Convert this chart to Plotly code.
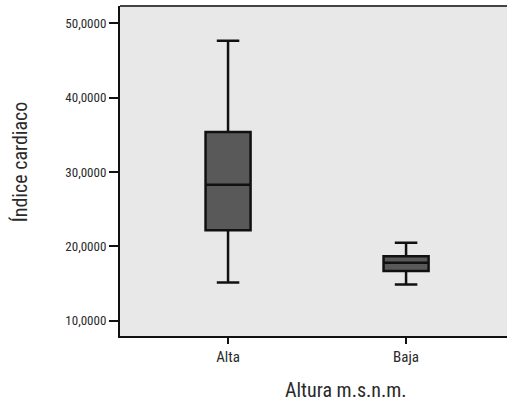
import plotly.graph_objects as go

categories = ["Alta", "Baja"]
lower = [15.14, 14.87]
q1 = [22.18, 16.70]
median = [28.28, 17.78]
q3 = [35.37, 18.68]
upper = [47.66, 20.47]
y_ticks = [10, 20, 30, 40, 50]
y_tick_labels = ["10,0000", "20,0000", "30,0000", "40,0000", "50,0000"]
x_title = "Altura m.s.n.m."
y_title = "Índice cardiaco"

FONT = "Liberation Sans Narrow, Roboto Condensed, Arial Narrow, sans-serif"
TXT = "#2a2a2a"

fig = go.Figure()
fig.add_trace(go.Box(
    x=categories, q1=q1, median=median, q3=q3,
    lowerfence=lower, upperfence=upper,
    fillcolor="#595959", line=dict(color="#111111", width=2.5),
    width=0.253, whiskerwidth=0.5, boxpoints=False, showlegend=False,
))

fig.update_layout(
    width=507, height=403,
    margin=dict(l=120, r=0, t=6, b=67),
    paper_bgcolor="white", plot_bgcolor="#e8e8e8",
    font=dict(family=FONT, color=TXT, size=12),
    xaxis=dict(
        type="category", range=[-0.607, 1.567],
        showline=True, linecolor="#111111", linewidth=2,
        ticks="outside", ticklen=6, tickwidth=2, tickcolor="#111111",
        showgrid=False, zeroline=False,
        tickfont=dict(size=15, family=FONT, color=TXT),
    ),
    yaxis=dict(
        range=[7.94, 52.33],
        tickvals=y_ticks, ticktext=y_tick_labels,
        showline=True, linecolor="#111111", linewidth=2,
        ticks="outside", ticklen=9, tickwidth=2, tickcolor="#111111",
        showgrid=False, zeroline=False,
        tickfont=dict(size=13, family=FONT, color=TXT),
    ),
)
fig.add_shape(type="line", xref="paper", yref="paper", x0=0, x1=1, y0=1, y1=1,
              line=dict(color="#444444", width=2))
fig.add_annotation(text=x_title, xref="paper", yref="paper", x=0.584, y=-0.164,
                   xanchor="center", yanchor="middle", showarrow=False,
                   font=dict(size=20, family=FONT, color=TXT))
fig.add_annotation(text=y_title, xref="paper", yref="paper", x=-0.258, y=0.527,
                   xanchor="center", yanchor="middle", showarrow=False, textangle=-90,
                   font=dict(size=20, family=FONT, color=TXT))
fig.add_annotation(text="2.21", xref="paper", yref="paper", x=-0.105, y=-0.195,
                   xanchor="center", yanchor="top", showarrow=False,
                   font=dict(size=18, family=FONT, color=TXT))

fig.write_html("out.html")
